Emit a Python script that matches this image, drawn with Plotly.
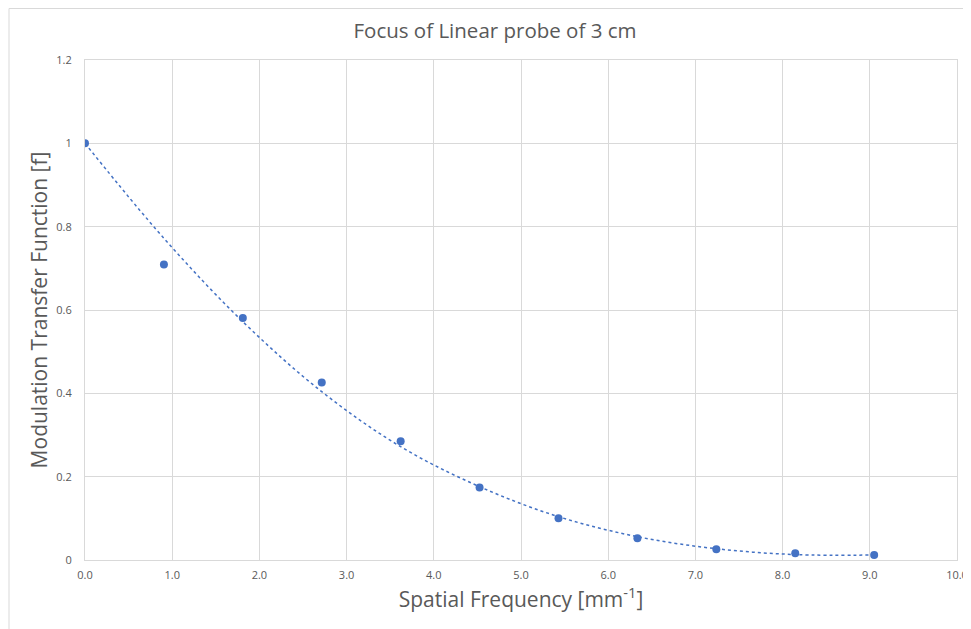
import plotly.graph_objects as go

# Measured data points
freq = [0.0, 0.905, 1.81, 2.715, 3.62, 4.525, 5.43, 6.335, 7.24, 8.145, 9.05]
mtf = [1.0, 0.709, 0.581, 0.426, 0.285, 0.174, 0.100, 0.052, 0.026, 0.016, 0.012]

# Trendline values
trend_x = [0.0, 0.905, 1.81, 2.715, 3.62, 4.525, 5.43, 6.335, 7.24, 8.145, 9.05]
trend_y = [1.0, 0.772, 0.572, 0.404, 0.272, 0.176, 0.104, 0.056, 0.027, 0.013, 0.012]

x_ticks = [0, 1, 2, 3, 4, 5, 6, 7, 8, 9, 10]
y_ticks = [0, 0.2, 0.4, 0.6, 0.8, 1.0, 1.2]
y_tick_text = ["0", "0.2", "0.4", "0.6", "0.8", "1", "1.2"]

blue = "#4472C4"
grid = "#d9d9d9"
font = "Open Sans, Noto Sans, sans-serif"

W, H = 971, 621
ML, MR, MT, MB = 77, 22, 52, 69
PW = W - ML - MR
PH = H - MT - MB

fig = go.Figure()
fig.add_trace(go.Scatter(
    x=trend_x, y=trend_y, mode="lines",
    line=dict(color=blue, width=1.5, dash="dot", shape="spline"),
    hoverinfo="skip", showlegend=False))
fig.add_trace(go.Scatter(
    x=freq, y=mtf, mode="markers",
    marker=dict(color=blue, size=8),
    showlegend=False))

fig.update_layout(
    width=W, height=H,
    margin=dict(l=ML, r=MR, t=MT, b=MB),
    paper_bgcolor="white", plot_bgcolor="white",
    font=dict(family=font, color="#595959"),
    title=dict(text="Focus of Linear probe of 3 cm", x=(495 - 8) / W, xanchor="center",
               y=1 - 23 / H, yanchor="middle",
               font=dict(size=20.5, color="#595959", family=font)),
    shapes=[dict(type="rect", xref="paper", yref="paper",
                 x0=(1 - ML) / PW, x1=1.2, y0=-0.3, y1=(PH + MT - 0.5) / PH,
                 line=dict(color="#d9d9d9", width=1), fillcolor="rgba(0,0,0,0)",
                 layer="below")],
)
fig.update_xaxes(
    range=[0, 10], tickvals=x_ticks, tickformat=".1f", automargin=False,
    showgrid=True, gridcolor=grid, gridwidth=1,
    showline=True, linecolor=grid, mirror=True, zeroline=False,
    ticks="", ticklabelstandoff=5, ticklabeloverflow="allow",
    tickfont=dict(size=11, color="#595959"),
    title=dict(text="Spatial Frequency [mm<sup>-1</sup>]",
               font=dict(size=21, color="#595959"), standoff=8))
fig.update_yaxes(
    range=[0, 1.2], tickvals=y_ticks, ticktext=y_tick_text, automargin=False,
    showgrid=True, gridcolor=grid, gridwidth=1,
    showline=True, linecolor=grid, mirror=True, zeroline=False,
    ticks="", ticklabelstandoff=10, tickfont=dict(size=11, color="#595959"),
    title=dict(text="Modulation Transfer Function [f]",
               font=dict(size=21, color="#595959"), standoff=2))

fig.write_html("out.html")
